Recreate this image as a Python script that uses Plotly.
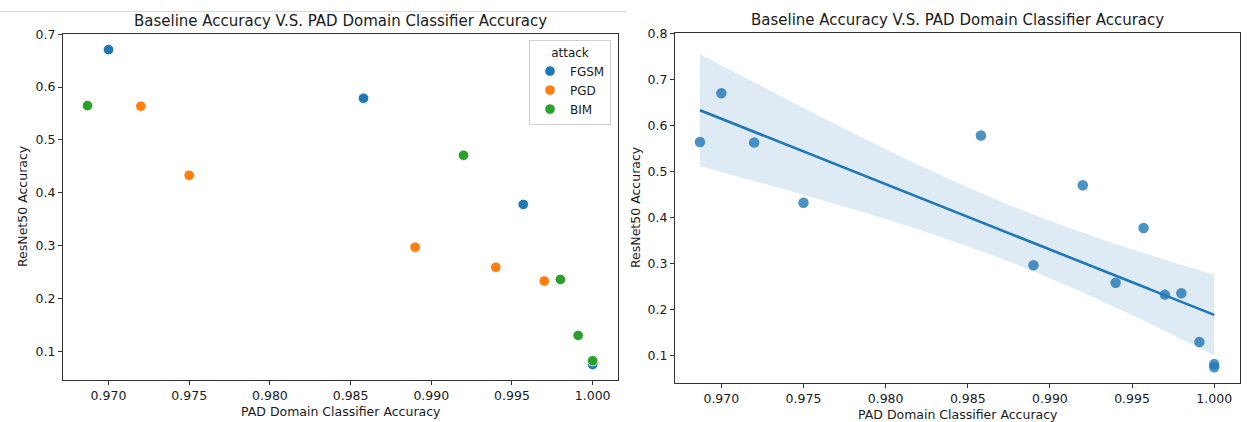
import numpy as np
import plotly.graph_objects as go

# PAD domain classifier accuracy vs. ResNet50 baseline accuracy, per attack
fgsm_pad = [0.9700, 0.9858, 0.9957, 1.0000]
fgsm_acc = [0.671, 0.579, 0.378, 0.075]
pgd_pad = [0.9720, 0.9750, 0.9890, 0.9940, 0.9970]
pgd_acc = [0.564, 0.433, 0.297, 0.259, 0.233]
bim_pad = [0.9687, 0.9920, 0.9980, 0.9991, 1.0000]
bim_acc = [0.565, 0.471, 0.236, 0.130, 0.082]

attacks = ["FGSM", "PGD", "BIM"]
colors = ["#1f77b4", "#ff7f0e", "#2ca02c"]

x_ticks = [0.970, 0.975, 0.980, 0.985, 0.990, 0.995, 1.000]
y_ticks_left = [0.1, 0.2, 0.3, 0.4, 0.5, 0.6, 0.7]
y_ticks_right = [0.1, 0.2, 0.3, 0.4, 0.5, 0.6, 0.7, 0.8]

W, H = 1252, 422
FONT = "DejaVu Sans"
TXT = "#1a1a1a"
TICK_SIZE = 12.5
LEGEND_SIZE = 12
TITLE_SIZE = 15


def px_x(p):
    return p / W


def px_y(p):
    return 1 - p / H


fig = go.Figure()

# left panel: points coloured by attack
for name, xs, ys, c in zip(attacks, [fgsm_pad, pgd_pad, bim_pad],
                           [fgsm_acc, pgd_acc, bim_acc], colors):
    fig.add_trace(go.Scatter(
        x=xs, y=ys, mode="markers", name=name,
        marker=dict(size=10.5, color=c, line=dict(color="white", width=0.8)),
        xaxis="x", yaxis="y",
    ))

# right panel: pooled points with a linear fit and 95% confidence band
all_x = np.array(fgsm_pad + pgd_pad + bim_pad)
all_y = np.array(fgsm_acc + pgd_acc + bim_acc)
n = len(all_x)
slope, intercept = np.polyfit(all_x, all_y, 1)
grid = np.linspace(all_x.min(), all_x.max(), 100)
fit = intercept + slope * grid
resid = all_y - (intercept + slope * all_x)
s = np.sqrt(np.sum(resid ** 2) / (n - 2))
sxx = np.sum((all_x - all_x.mean()) ** 2)
t_crit = 2.179  # t(0.975, df=12)
half = t_crit * s * np.sqrt(1 / n + (grid - all_x.mean()) ** 2 / sxx)

fig.add_trace(go.Scatter(
    x=np.concatenate([grid, grid[::-1]]),
    y=np.concatenate([fit + half, (fit - half)[::-1]]),
    fill="toself", fillcolor="rgba(31,119,180,0.15)", line=dict(width=0),
    mode="lines", hoverinfo="skip", showlegend=False, xaxis="x2", yaxis="y2",
))
fig.add_trace(go.Scatter(
    x=all_x, y=all_y, mode="markers", showlegend=False,
    marker=dict(size=10.5, color="rgba(31,119,180,0.8)", line=dict(width=0)),
    xaxis="x2", yaxis="y2",
))
fig.add_trace(go.Scatter(
    x=grid, y=fit, mode="lines", showlegend=False,
    line=dict(color="#1f77b4", width=2.6), xaxis="x2", yaxis="y2",
))

axis_common = dict(
    showgrid=False, zeroline=False, showline=True, mirror=True,
    linecolor="#333333", linewidth=1.1, ticks="outside", ticklen=4,
    tickwidth=1, tickcolor="#333333",
    tickfont=dict(family=FONT, size=TICK_SIZE, color=TXT),
    automargin=False,
)

fig.update_layout(
    width=W, height=H,
    margin=dict(l=0, r=0, t=0, b=0),
    paper_bgcolor="white", plot_bgcolor="white",
    font=dict(family=FONT, size=TICK_SIZE, color=TXT),
    xaxis=dict(axis_common, domain=[px_x(63), px_x(618)],
               range=[0.96718, 1.00157], tickvals=x_ticks, tickformat=".3f",
               anchor="y"),
    yaxis=dict(axis_common, domain=[px_y(379.5), px_y(33.5)],
               range=[0.0465, 0.7015], tickvals=y_ticks_left, tickformat=".1f",
               anchor="x"),
    xaxis2=dict(axis_common, domain=[px_x(675), px_x(1240)],
                range=[0.96718, 1.00157], tickvals=x_ticks, tickformat=".3f",
                anchor="y2"),
    yaxis2=dict(axis_common, domain=[px_y(382.5), px_y(32.5)],
                range=[0.042, 0.803], tickvals=y_ticks_right, tickformat=".1f",
                anchor="x2"),
    legend=dict(
        x=px_x(611), xanchor="right", y=px_y(40), yanchor="top",
        bgcolor="white", bordercolor="#d0d0d0", borderwidth=1,
        font=dict(family=FONT, size=LEGEND_SIZE, color=TXT),
        title=dict(text="attack", side="top center",
                   font=dict(family=FONT, size=LEGEND_SIZE, color=TXT)),
        tracegroupgap=0, itemwidth=30,
    ),
    showlegend=True,
)

title = "Baseline Accuracy V.S. PAD Domain Classifier Accuracy"
ann = [
    dict(text=title, x=px_x(340.5), y=px_y(21), font_size=TITLE_SIZE),
    dict(text=title, x=px_x(957.5), y=px_y(20), font_size=TITLE_SIZE),
    dict(text="PAD Domain Classifier Accuracy", x=px_x(340.5), y=px_y(411), font_size=TICK_SIZE),
    dict(text="PAD Domain Classifier Accuracy", x=px_x(957.5), y=px_y(414), font_size=TICK_SIZE),
    dict(text="ResNet50 Accuracy", x=px_x(22), y=px_y(206), font_size=TICK_SIZE, textangle=-90),
    dict(text="ResNet50 Accuracy", x=px_x(635), y=px_y(207), font_size=TICK_SIZE, textangle=-90),
]
for a in ann:
    fig.add_annotation(
        text=a["text"], x=a["x"], y=a["y"], xref="paper", yref="paper",
        xanchor="center", yanchor="middle", showarrow=False,
        textangle=a.get("textangle", 0),
        font=dict(family=FONT, size=a["font_size"], color=TXT),
    )

# thin separator line across the top of the left panel
fig.add_shape(type="line", xref="paper", yref="paper",
              x0=0, x1=px_x(626), y0=px_y(11.5), y1=px_y(11.5),
              line=dict(color="#d9d9d9", width=1))

fig.write_html("out.html")
